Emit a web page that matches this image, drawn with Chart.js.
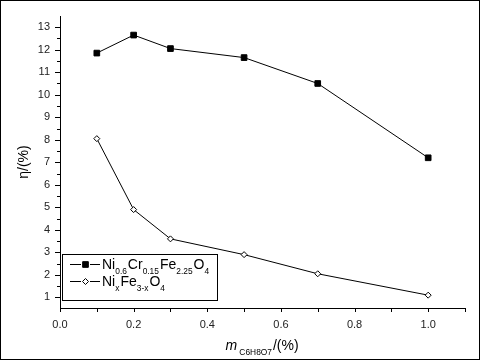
<!DOCTYPE html>
<html lang="en">
<head>
    <meta charset="UTF-8">
    <title>eta vs m</title>
    <script src="https://cdn.jsdelivr.net/npm/chart.js"></script>
    <style>
        body { margin: 0; background: #fff; }
        #wrap { width: 480px; height: 360px; }
    </style>
</head>
<body>
    <div id="wrap"><canvas id="chart" width="480" height="360"></canvas></div>

    <script>
        // data
        const massFrac = [0.1, 0.2, 0.3, 0.5, 0.7, 1.0];
        const etaCr = [11.85, 12.65, 12.05, 11.65, 10.5, 7.2];
        const etaFe = [8.05, 4.9, 3.6, 2.9, 2.05, 1.1];
        const yTicks = [1, 2, 3, 4, 5, 6, 7, 8, 9, 10, 11, 12, 13];
        const xTicks = [0.0, 0.2, 0.4, 0.6, 0.8, 1.0];

        const FONT = '"Liberation Sans", Arial, sans-serif';

        function pts(ys) {
            return massFrac.map((x, i) => ({ x: x, y: ys[i] }));
        }

        // draws text pieces, some of them lowered and smaller (subscripts)
        function drawRich(ctx, x, y, parts, size) {
            for (const p of parts) {
                let fs = p.sub ? size * 0.6 : size;
                ctx.font = (p.italic ? 'italic ' : '') + fs + 'px ' + FONT;
                ctx.fillText(p.t, x, p.sub ? y + size * 0.36 : y);
                x += ctx.measureText(p.t).width + (p.sub ? 1 : 0);
            }
            return x;
        }
        function richWidth(ctx, parts, size) {
            let w = 0;
            for (const p of parts) {
                let fs = p.sub ? size * 0.6 : size;
                ctx.font = (p.italic ? 'italic ' : '') + fs + 'px ' + FONT;
                w += ctx.measureText(p.t).width + (p.sub ? 1 : 0);
            }
            return w;
        }

        const extras = {
            id: 'extras',
            afterDraw(chart) {
                const ctx = chart.ctx;
                const xs = chart.scales.x, ys = chart.scales.y;
                const a = chart.chartArea;
                ctx.save();
                ctx.strokeStyle = '#000';
                ctx.fillStyle = '#000';
                ctx.lineWidth = 1;

                // outer frame
                ctx.strokeRect(0.5, 0.5, 479, 359);

                // ticks, major and minor
                ctx.beginPath();
                for (let v = 1; v <= 13.4; v += 0.5) {
                    const py = Math.round(ys.getPixelForValue(v)) + 0.5;
                    const len = Number.isInteger(v) ? 5 : 3;
                    ctx.moveTo(a.left - len, py);
                    ctx.lineTo(a.left, py);
                }
                for (let i = 0; i <= 11; i++) {
                    const px = Math.round(xs.getPixelForValue(i / 10)) + 0.5;
                    ctx.moveTo(px, a.bottom);
                    ctx.lineTo(px, a.bottom + 4);
                }
                ctx.stroke();

                // y title
                ctx.save();
                ctx.translate(24, 162);
                ctx.rotate(-Math.PI / 2);
                ctx.textAlign = 'center';
                ctx.textBaseline = 'middle';
                ctx.font = '14px ' + FONT;
                ctx.fillText('η/(%)', 0, 0);
                ctx.restore();

                // x title
                ctx.textBaseline = 'alphabetic';
                const xt = [
                    { t: 'm', italic: true },
                    { t: ' C6H8O7', sub: true },
                    { t: '/(%)' }
                ];
                const w = richWidth(ctx, xt, 14);
                drawRich(ctx, 262 - w / 2, 350, xt, 14);

                // legend
                ctx.fillStyle = '#fff';
                ctx.fillRect(62.5, 254.5, 155, 46);
                ctx.strokeStyle = '#000';
                ctx.strokeRect(62.5, 254.5, 155, 46);
                ctx.fillStyle = '#000';
                const rows = [
                    { y: 264, style: 'rect', r: 4, fill: '#000', parts: [
                        { t: 'Ni' }, { t: '0.6', sub: true }, { t: 'Cr' }, { t: '0.15', sub: true },
                        { t: 'Fe' }, { t: '2.25', sub: true }, { t: 'O' }, { t: '4', sub: true }] },
                    { y: 281, style: 'rectRot', r: 3, fill: '#fff', parts: [
                        { t: 'Ni' }, { t: 'x', sub: true }, { t: 'Fe' }, { t: '3-x', sub: true },
                        { t: 'O' }, { t: '4', sub: true }] }
                ];
                for (const row of rows) {
                    ctx.beginPath();
                    ctx.moveTo(70, row.y + 0.5);
                    ctx.lineTo(81, row.y + 0.5);
                    ctx.moveTo(90, row.y + 0.5);
                    ctx.lineTo(100, row.y + 0.5);
                    ctx.stroke();
                    ctx.fillStyle = row.fill;
                    Chart.helpers.drawPoint(ctx, { pointStyle: row.style, radius: row.r, rotation: 0, borderWidth: 1 }, 85.5, row.y + 0.5);
                    ctx.fillStyle = '#000';
                    ctx.textBaseline = 'alphabetic';
                    drawRich(ctx, 102, row.y + 5, row.parts, 14);
                }
                ctx.restore();
            }
        };

        new Chart(document.getElementById('chart').getContext('2d'), {
            type: 'scatter',
            data: {
                datasets: [{
                    label: 'Ni0.6Cr0.15Fe2.25O4',
                    data: pts(etaCr),
                    showLine: true,
                    borderColor: '#000',
                    backgroundColor: '#000',
                    borderWidth: 1,
                    pointStyle: 'rect',
                    pointRadius: 4,
                    pointBorderWidth: 1
                }, {
                    label: 'NixFe3-xO4',
                    data: pts(etaFe),
                    showLine: true,
                    borderColor: '#000',
                    backgroundColor: '#fff',
                    borderWidth: 1,
                    pointStyle: 'rectRot',
                    pointRadius: 3,
                    pointBorderWidth: 1
                }]
            },
            options: {
                responsive: false,
                animation: false,
                layout: { padding: { left: 0, top: 6, right: 15, bottom: 0 } },
                plugins: { legend: { display: false }, tooltip: { enabled: false } },
                scales: {
                    x: {
                        type: 'linear',
                        min: 0,
                        max: 1.1,
                        afterFit: s => { s.height = 52; },
                        afterBuildTicks: s => { s.ticks = xTicks.map(v => ({ value: v })); },
                        grid: { display: false, drawTicks: false },
                        border: { color: '#000', width: 1 },
                        ticks: {
                            padding: 10,
                            color: '#222',
                            font: { family: FONT, size: 11 },
                            callback: v => v.toFixed(1)
                        }
                    },
                    y: {
                        min: 0.53,
                        max: 13.47,
                        afterFit: s => { s.width = 60; },
                        afterBuildTicks: s => { s.ticks = yTicks.map(v => ({ value: v })); },
                        grid: { display: false, drawTicks: false },
                        border: { color: '#000', width: 1 },
                        ticks: {
                            padding: 10,
                            color: '#222',
                            font: { family: FONT, size: 11 },
                            callback: v => String(v)
                        }
                    }
                }
            },
            plugins: [extras]
        });
    </script>
</body>
</html>
